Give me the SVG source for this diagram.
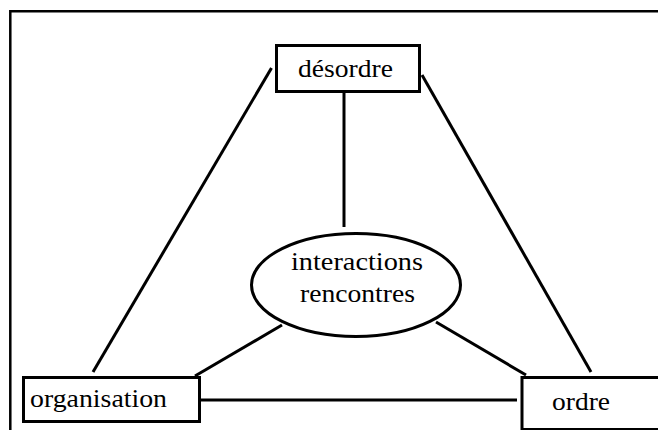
<svg xmlns="http://www.w3.org/2000/svg" width="658" height="430" viewBox="0 0 658 430">
<style>
.box{fill:#fff;stroke:#000;stroke-width:3}
.lbl{font-family:'Liberation Serif','DejaVu Serif','Noto Serif',serif;font-size:25px;fill:#000}
.conn line{stroke:#000;stroke-width:3}
</style>
<rect width="658" height="430" fill="#fff"/>
<path id="frame" d="M10.3,432 V11.3 H662" fill="none" stroke="#000" stroke-width="2.5"/>
<g class="conn" id="connectors">
<line x1="344" y1="92" x2="344" y2="227"/>
<line x1="271.5" y1="68" x2="93" y2="372"/>
<line x1="422" y1="75" x2="591" y2="372"/>
<line x1="282" y1="325" x2="195" y2="376"/>
<line x1="436" y1="322" x2="526" y2="375"/>
<line x1="200" y1="400" x2="517" y2="400"/>
</g>
<g id="desordre">
<rect class="box" x="276.5" y="45.5" width="143" height="46"/>
<text class="lbl" x="298" y="77" textLength="95" lengthAdjust="spacingAndGlyphs">désordre</text>
</g>
<g id="interactions">
<ellipse cx="356" cy="285" rx="104.5" ry="51.5" fill="#fff" stroke="#000" stroke-width="3"/>
<text class="lbl" x="291" y="270" textLength="132" lengthAdjust="spacingAndGlyphs">interactions</text>
<text class="lbl" x="300" y="302" textLength="115" lengthAdjust="spacingAndGlyphs">rencontres</text>
</g>
<g id="organisation">
<rect class="box" x="23.5" y="377.5" width="176" height="44"/>
<text class="lbl" x="30" y="407" textLength="137" lengthAdjust="spacingAndGlyphs">organisation</text>
</g>
<g id="ordre">
<rect class="box" x="522" y="377.5" width="150" height="52"/>
<text class="lbl" x="552" y="410" textLength="58" lengthAdjust="spacingAndGlyphs">ordre</text>
</g>
</svg>
